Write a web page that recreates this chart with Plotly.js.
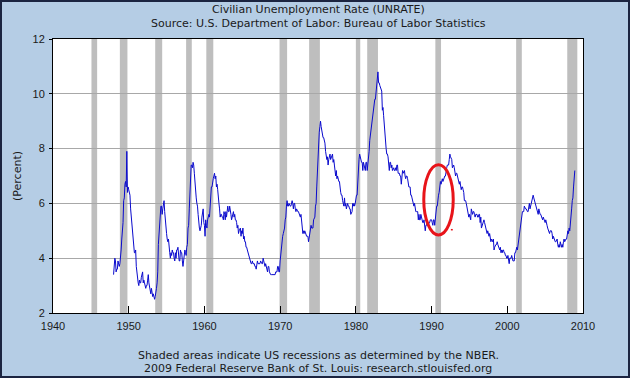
<!DOCTYPE html>
<html>
<head>
<meta charset="utf-8">
<script src="https://cdn.plot.ly/plotly-3.0.1.min.js"></script>
<style>
html,body{margin:0;padding:0;background:#B5CDE5;}
#wrap{position:relative;width:630px;height:378px;}
#chart{width:630px;height:378px;}
#frame{position:absolute;left:0;top:0;width:630px;height:378px;box-sizing:border-box;border:2px solid #1B2440;pointer-events:none;}
</style>
</head>
<body>
<div id="wrap"><div id="chart"></div><div id="frame"></div></div>
<script>
// Monthly civilian unemployment rate, Jan 1948 - Dec 2008 (percent)
const startYear = 1948;
const unrate = [
3.4,3.8,4.0,3.9,3.5,3.6,3.6,3.9,3.8,3.7,3.8,4.0,
4.3,4.7,5.0,5.3,6.1,6.2,6.7,6.8,6.6,7.9,6.4,6.6,
6.5,6.4,6.3,5.8,5.5,5.4,5.0,4.5,4.4,4.2,4.2,4.3,
3.7,3.4,3.4,3.1,3.0,3.2,3.1,3.1,3.3,3.5,3.5,3.1,
3.2,3.1,2.9,2.9,3.0,3.0,3.2,3.4,3.1,3.0,2.8,2.7,
2.9,2.6,2.6,2.7,2.5,2.5,2.6,2.7,2.9,3.1,3.5,4.5,
4.9,5.2,5.7,5.9,5.9,5.6,5.8,6.0,6.1,5.7,5.3,5.0,
4.9,4.7,4.6,4.7,4.3,4.2,4.0,4.2,4.1,4.3,4.2,4.2,
4.0,3.9,4.2,4.0,4.3,4.3,4.4,4.1,3.9,3.9,4.3,4.2,
4.2,3.9,3.7,3.9,4.1,4.3,4.2,4.1,4.4,4.5,5.1,5.2,
5.8,6.4,6.7,7.4,7.4,7.3,7.5,7.4,7.1,6.7,6.2,6.2,
6.0,5.9,5.6,5.2,5.1,5.0,5.1,5.2,5.5,5.7,5.8,5.3,
5.2,4.8,5.4,5.2,5.1,5.4,5.5,5.6,5.5,6.1,6.1,6.6,
6.6,6.9,6.9,7.0,7.1,6.9,7.0,6.6,6.7,6.5,6.1,6.0,
5.8,5.5,5.6,5.6,5.5,5.5,5.4,5.7,5.6,5.4,5.7,5.5,
5.7,5.9,5.7,5.7,5.9,5.6,5.6,5.4,5.5,5.5,5.7,5.5,
5.6,5.4,5.4,5.3,5.1,5.2,4.9,5.0,5.1,5.1,4.8,5.0,
4.9,5.1,4.7,4.8,4.6,4.6,4.4,4.4,4.3,4.2,4.1,4.0,
4.0,3.8,3.8,3.8,3.9,3.8,3.8,3.8,3.7,3.7,3.6,3.8,
3.9,3.8,3.8,3.8,3.8,3.9,3.8,3.8,3.8,4.0,3.9,3.8,
3.7,3.8,3.7,3.5,3.5,3.7,3.7,3.5,3.4,3.4,3.4,3.4,
3.4,3.4,3.4,3.4,3.4,3.5,3.5,3.5,3.7,3.7,3.5,3.5,
3.9,4.2,4.4,4.6,4.8,4.9,5.0,5.1,5.4,5.5,5.9,6.1,
5.9,5.9,6.0,5.9,5.9,5.9,6.0,6.1,6.0,5.8,6.0,6.0,
5.8,5.7,5.8,5.7,5.7,5.7,5.6,5.6,5.5,5.6,5.3,5.2,
4.9,5.0,4.9,5.0,4.9,4.9,4.8,4.8,4.8,4.6,4.8,4.9,
5.1,5.2,5.1,5.1,5.1,5.4,5.5,5.5,5.9,6.0,6.6,7.2,
8.1,8.1,8.6,8.8,9.0,8.8,8.6,8.4,8.4,8.4,8.3,8.2,
7.9,7.7,7.6,7.7,7.4,7.6,7.8,7.8,7.6,7.7,7.8,7.8,
7.5,7.6,7.4,7.2,7.0,7.2,6.9,7.0,6.8,6.8,6.8,6.4,
6.4,6.3,6.3,6.1,6.0,5.9,6.2,5.9,6.0,5.8,5.9,6.0,
5.9,5.9,5.8,5.8,5.6,5.7,5.7,6.0,5.9,6.0,5.9,6.0,
6.3,6.3,6.3,6.9,7.5,7.6,7.8,7.7,7.5,7.5,7.5,7.2,
7.5,7.4,7.4,7.2,7.5,7.5,7.2,7.4,7.6,7.9,8.3,8.5,
8.6,8.9,9.0,9.3,9.4,9.6,9.8,9.8,10.1,10.4,10.8,10.8,
10.4,10.4,10.3,10.2,10.1,10.1,9.4,9.5,9.2,8.8,8.5,8.3,
8.0,7.8,7.8,7.7,7.4,7.2,7.5,7.5,7.3,7.4,7.2,7.3,
7.3,7.2,7.2,7.3,7.2,7.4,7.4,7.1,7.1,7.1,7.0,7.0,
6.7,7.2,7.2,7.1,7.2,7.2,7.0,6.9,7.0,7.0,6.9,6.6,
6.6,6.6,6.6,6.3,6.3,6.2,6.1,6.0,5.9,6.0,5.8,5.7,
5.7,5.7,5.7,5.4,5.6,5.4,5.4,5.6,5.4,5.4,5.3,5.3,
5.4,5.2,5.0,5.2,5.2,5.3,5.2,5.2,5.3,5.3,5.4,5.4,
5.4,5.3,5.2,5.4,5.4,5.2,5.5,5.7,5.9,5.9,6.2,6.3,
6.4,6.6,6.8,6.7,6.9,6.9,6.8,6.9,6.9,7.0,7.0,7.3,
7.3,7.4,7.4,7.4,7.6,7.8,7.7,7.6,7.6,7.3,7.4,7.4,
7.3,7.1,7.0,7.1,7.1,7.0,6.9,6.8,6.7,6.8,6.6,6.5,
6.6,6.6,6.5,6.4,6.1,6.1,6.1,6.0,5.9,5.8,5.6,5.5,
5.6,5.4,5.4,5.8,5.6,5.6,5.7,5.7,5.6,5.5,5.6,5.6,
5.6,5.5,5.5,5.6,5.6,5.3,5.5,5.1,5.2,5.2,5.4,5.4,
5.3,5.2,5.2,5.1,4.9,5.0,4.9,4.8,4.9,4.7,4.6,4.7,
4.6,4.6,4.7,4.3,4.4,4.5,4.5,4.5,4.6,4.5,4.4,4.4,
4.3,4.4,4.2,4.3,4.2,4.3,4.3,4.2,4.2,4.1,4.1,4.0,
4.0,4.1,4.0,3.8,4.0,4.0,4.0,4.1,3.9,3.9,3.9,3.9,
4.2,4.2,4.3,4.4,4.3,4.5,4.6,4.9,5.0,5.3,5.5,5.7,
5.7,5.7,5.7,5.9,5.8,5.8,5.8,5.7,5.7,5.7,5.9,6.0,
5.8,5.9,5.9,6.0,6.1,6.3,6.2,6.1,6.1,6.0,5.8,5.7,
5.7,5.6,5.8,5.6,5.6,5.6,5.5,5.4,5.4,5.5,5.4,5.4,
5.3,5.4,5.2,5.2,5.1,5.0,5.0,4.9,5.0,5.0,5.0,4.9,
4.7,4.8,4.7,4.7,4.6,4.6,4.7,4.7,4.5,4.4,4.5,4.4,
4.6,4.5,4.4,4.5,4.4,4.6,4.7,4.6,4.7,4.7,4.7,5.0,
5.0,4.9,5.1,5.0,5.4,5.6,5.8,6.1,6.2,6.6,6.8,7.2
];
// NBER recessions (decimal years)
const recStart = [1945.08, 1948.83, 1953.5, 1957.58, 1960.25, 1969.92, 1973.83, 1980.0, 1981.5, 1990.5, 2001.17, 2007.92];
const recEnd   = [1945.83, 1949.83, 1954.42, 1958.33, 1961.17, 1970.92, 1975.25, 1980.58, 1982.92, 1991.25, 2001.92, 2009.25];
const xTicks = [1940,1950,1960,1970,1980,1990,2000,2010];
const yTicks = [2,4,6,8,10,12];
// Hand-drawn annotation ellipse around the 1990-91 rise (data coords)
const ellipseX = [1988.97, 1992.86];
const ellipseY = [4.85, 7.41];
const markX = [1992.55, 1992.8];
const markY = [5.04, 5.04];

const xs = unrate.map((v,i)=> startYear + i/12);

const shapes = recStart.map((s,i)=>({
  type:'rect', xref:'x', yref:'paper', x0:s, x1:recEnd[i], y0:0, y1:1,
  fillcolor:'#BEBEBE', line:{width:0}, layer:'below'
}));
shapes.push({type:'circle', xref:'x', yref:'y', x0:ellipseX[0], x1:ellipseX[1], y0:ellipseY[0], y1:ellipseY[1],
  line:{color:'#E8141A', width:3}, layer:'above'});
shapes.push({type:'line', xref:'x', yref:'y', x0:markX[0], x1:markX[1], y0:markY[0], y1:markY[1],
  line:{color:'#E8141A', width:1.5}, layer:'above'});

const tickFont = {family:'Liberation Sans, Arial, sans-serif', size:11, color:'#1a1a1a'};
const textFont = {family:'DejaVu Sans, Verdana, sans-serif', size:11, color:'#1a1a1a'};

Plotly.newPlot('chart', [{
  x: xs, y: unrate, type:'scatter', mode:'lines',
  line:{color:'#0A0ACD', width:1}, hoverinfo:'skip'
}], {
  width:630, height:378,
  margin:{l:53, r:47, t:39, b:65},
  paper_bgcolor:'#B5CDE5', plot_bgcolor:'#FFFFFF',
  font: tickFont,
  showlegend:false,
  shapes: shapes,
  xaxis:{range:[1940,2010], tickvals:xTicks, ticktext:xTicks.map(String),
    showgrid:false, zeroline:false, showline:true, linecolor:'#000', linewidth:1, mirror:true,
    ticks:'inside', ticklen:7, tickcolor:'#000', tickfont:tickFont, ticklabelstandoff:3},
  yaxis:{range:[2,12], tickvals:yTicks, ticktext:yTicks.map(String),
    showgrid:true, gridcolor:'#A8A8A8', gridwidth:1, zeroline:false,
    showline:true, linecolor:'#000', linewidth:1, mirror:true,
    ticks:'outside', ticklen:3, tickcolor:'#000', tickfont:tickFont, ticklabelstandoff:2,
    title:{text:'(Percent)', font:textFont, standoff:8}},
  annotations:[
    {text:'Civilian Unemployment Rate (UNRATE)', xref:'paper', yref:'paper', x:0.5, y:1, yanchor:'middle', yshift:30, showarrow:false, font:textFont},
    {text:'Source: U.S. Department of Labor: Bureau of Labor Statistics', xref:'paper', yref:'paper', x:0.5, y:1, yanchor:'middle', yshift:16, showarrow:false, font:textFont},
    {text:'Shaded areas indicate US recessions as determined by the NBER.', xref:'paper', yref:'paper', x:0.5, y:0, yanchor:'middle', yshift:-42, showarrow:false, font:textFont},
    {text:'2009 Federal Reserve Bank of St. Louis: research.stlouisfed.org', xref:'paper', yref:'paper', x:0.5, y:0, yanchor:'middle', yshift:-55, showarrow:false, font:textFont}
  ]
}, {staticPlot:true});
</script>
</body>
</html>
